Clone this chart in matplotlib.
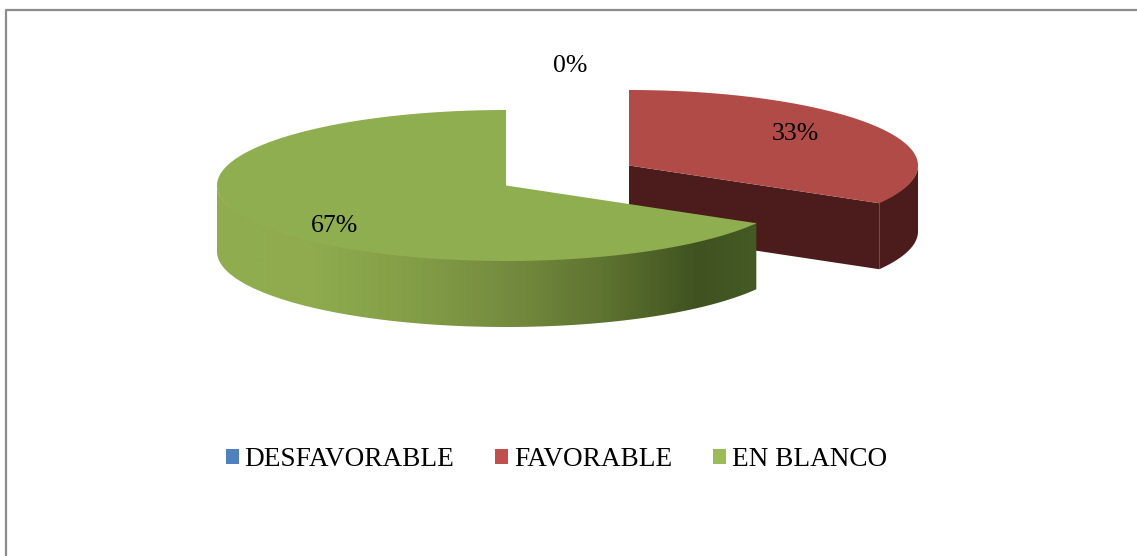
#!/usr/bin/python

import numpy as np
import matplotlib
matplotlib.use('Agg')
import matplotlib.pyplot as plt
from matplotlib.colors import LinearSegmentedColormap
from matplotlib.lines import Line2D
from matplotlib.patches import Polygon, Patch

labels = ['DESFAVORABLE', 'FAVORABLE', 'EN BLANCO']
shares = [0, 33.33, 66.67]
pct_labels = ['0%', '33%', '67%']
legend_colors = ['#4f81bd', '#c0504d', '#9bbb59']

plt.rcParams['font.family'] = ['Liberation Serif', 'DejaVu Serif']

RX, RY, DEPTH = 289, 75.5, 66
GREEN_SIDE = ['#8fad4f', '#8fab4e', '#839e47', '#758c3f', '#5e7431', '#3f5220', '#4a5f28']


def rim(cx, cy, a0, a1, n=200):
    # angles clockwise from the top of the pie, in degrees
    t = np.radians(np.linspace(a0, a1, n))
    return np.column_stack([cx + RX * np.sin(t), cy - RY * np.cos(t)])


def side_poly(cx, cy, a0, a1):
    top = rim(cx, cy, a0, a1)
    low = top[::-1] + [0, DEPTH]
    # top edge pulled up a little so no seam shows under the top face
    top[:, 1] = cy + (top[:, 1] - cy) * 0.97
    return np.vstack([top, low])


fig = plt.figure(figsize=(11.37, 5.56), dpi=100)
ax = fig.add_axes([0, 0, 1, 1])

edges = 360 * np.cumsum([0] + shares) / sum(shares)

# red slice, pulled out to the right
a0, a1 = edges[1], edges[2]
rc = (629, 165.5)
apex = np.array(rc)
end = rim(rc[0], rc[1], a1, a1, 1)[0]
ax.add_patch(Polygon([apex, end, end + [0, DEPTH], apex + [0, DEPTH]], fc='#4c1b1b', ec='none', zorder=1))
ax.add_patch(Polygon(side_poly(rc[0], rc[1], 90, a1), fc='#4c1b1b', ec='none', zorder=1))
ax.add_patch(Polygon(np.vstack([[apex], rim(rc[0], rc[1], a0, a1)]), fc='#b14b47', ec='none', zorder=2))

# green slice
a0, a1 = edges[2], edges[3]
gc = (506, 185.5)
side = Polygon(side_poly(gc[0], gc[1], a0, 270), fc='none', ec='none', zorder=3)
ax.add_patch(side)
grad = LinearSegmentedColormap.from_list('side', GREEN_SIDE[::-1])
im = ax.imshow(np.linspace(0, 1, 256).reshape(1, -1), cmap=grad, aspect='auto', zorder=3,
               extent=[gc[0] + RX, gc[0] - RX, gc[1] + RY + DEPTH, gc[1]])
im.set_clip_path(side)
ax.add_patch(Polygon(np.vstack([[gc], rim(gc[0], gc[1], a0, a1)]), fc='#8fae50', ec='none', zorder=4))

ax.text(570, 65.5, pct_labels[0], fontsize=18.5, ha='center', va='center', color='k', zorder=5)
ax.text(795, 134.5, pct_labels[1], fontsize=18.5, ha='center', va='center', color='k', zorder=5)
ax.text(335, 225.5, pct_labels[2], fontsize=18.5, ha='center', va='center', color='k', zorder=5)

handles = [Patch(fc=c, ec='none') for c in legend_colors]
ax.legend(handles, labels, ncol=3, frameon=False, fontsize=19.6, loc='center',
          bbox_to_anchor=(556.5 / 1137, 1 - 460 / 556), handlelength=0.48, handleheight=0.48,
          handletextpad=0.22, columnspacing=1.5, labelcolor='k')

ax.set_xlim(0, 1137)
ax.set_ylim(556, 0)
ax.axis('off')

# chart frame, only the top and left edges are in the picture
ax.add_line(Line2D([6, 6, 1137], [556, 10, 10], color='#8c8c8c', lw=1.6, zorder=6))

plt.savefig('out.png', dpi=100)
